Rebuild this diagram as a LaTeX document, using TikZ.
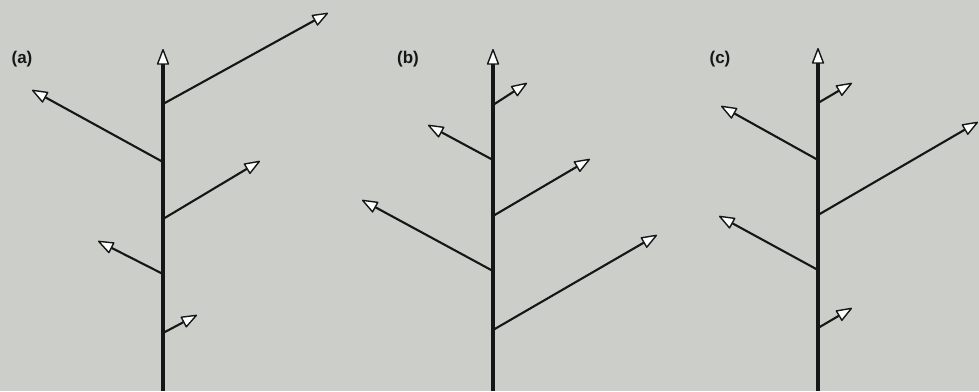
\documentclass[tikz,border=0pt]{standalone}
\usepackage{fontspec}
\setmainfont{Liberation Sans}
\usetikzlibrary{arrows.meta,positioning}

\definecolor{paper}{RGB}{204,206,201}
\definecolor{ink}{RGB}{22,22,22}

\tikzset{
  bud/.tip={Triangle[round, fill=white, line width=1.4pt, length=17pt, width=12.5pt]},
  trunk/.style={draw=ink, line width=3.4pt, -bud},
  twig/.style={draw=ink, line width=2.1pt, -bud},
  panel/.style={font=\bfseries\fontsize{17}{19}\selectfont, text=ink, inner sep=0pt}
}

\begin{document}
\begin{tikzpicture}[x=1pt, y=-1pt]
    \fill[paper] (0,0) rectangle (979,391);
    \useasboundingbox (0,0) rectangle (979,391);

    % (a) long shoots at the top
    \node[panel] (lab-a) at (22,59) {(a)};
    \coordinate (a-root) at (163,391);
    \coordinate (a-top) at (163,49);
    \foreach \i/\y/\tx/\ty in {1/104/328/13, 2/162/32/90, 3/219/260/161, 4/274/98/241, 5/333/197/315} {
      \coordinate (a-\i) at (163,\y);
      \coordinate (a-\i-tip) at (\tx,\ty);
      \draw[twig] (a-\i) -- (a-\i-tip);
    }
    \draw[trunk] (a-root) -- (a-top);

    % (b) long shoots at the base
    \node[panel] (lab-b) at (408,59) {(b)};
    \coordinate (b-root) at (493,391);
    \coordinate (b-top) at (493,49);
    \foreach \i/\y/\tx/\ty in {1/105/527/83, 2/160/428/125, 3/216/590/159, 4/271/362/200, 5/330/657/235} {
      \coordinate (b-\i) at (493,\y);
      \coordinate (b-\i-tip) at (\tx,\ty);
      \draw[twig] (b-\i) -- (b-\i-tip);
    }
    \draw[trunk] (b-root) -- (b-top);

    % (c) long shoots in the middle
    \node[panel] (lab-c) at (720,59) {(c)};
    \coordinate (c-root) at (818,391);
    \coordinate (c-top) at (818,48);
    \foreach \i/\y/\tx/\ty in {1/103/852/83, 2/160/721/106, 3/215/978/122, 4/270/719/216, 5/328/852/308} {
      \coordinate (c-\i) at (818,\y);
      \coordinate (c-\i-tip) at (\tx,\ty);
      \draw[twig] (c-\i) -- (c-\i-tip);
    }
    \draw[trunk] (c-root) -- (c-top);
\end{tikzpicture}
\end{document}
